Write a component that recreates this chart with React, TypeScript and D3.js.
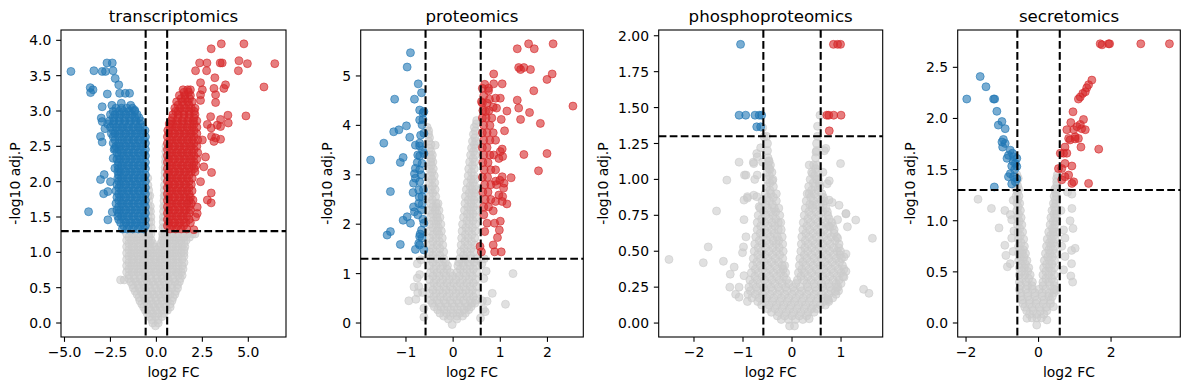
import * as d3 from "d3"

type Pt = [number, number]

const panelTitles = ["transcriptomics", "proteomics", "phosphoproteomics", "secretomics"]
const xAxisLabel = "log2 FC"
const yAxisLabel = "-log10 adj.P"
const fcCutoff = 0.585
const pCutoff = 1.3

const xTickValues = [
  [-5, -2.5, 0, 2.5, 5],
  [-1, 0, 1, 2],
  [-2, -1, 0, 1],
  [-2, 0, 2],
]
const yTickValues = [
  [0, 0.5, 1, 1.5, 2, 2.5, 3, 3.5, 4],
  [0, 1, 2, 3, 4, 5],
  [0, 0.25, 0.5, 0.75, 1, 1.25, 1.5, 1.75, 2],
  [0, 0.5, 1, 1.5, 2, 2.5],
]

// ---- transcriptomics ----
const transcriptomicsGrey: Pt[] = [
  [-0.2, 0], [0.1, 0], [-0.05, -0.04],
  [-0.25, 0.045], [0.1, 0.045],
  [-0.35, 0.09], [-0.05, 0.09], [0.3, 0.09],
  [-0.5, 0.135], [-0.2, 0.135], [0.1, 0.135], [0.4, 0.135],
  [-0.6, 0.18], [-0.3, 0.18], [0, 0.18], [0.3, 0.18], [0.6, 0.18],
  [-0.7, 0.225], [-0.4, 0.225], [-0.1, 0.225], [0.2, 0.225], [0.5, 0.225], [0.75, 0.225],
  [-0.8, 0.27], [-0.5, 0.27], [-0.2, 0.27], [0.1, 0.27], [0.4, 0.27], [0.75, 0.27],
  [-0.9, 0.315], [-0.6, 0.315], [-0.3, 0.315], [0, 0.315], [0.3, 0.315], [0.6, 0.315], [0.85, 0.315],
  [-0.95, 0.36], [-0.65, 0.36], [-0.35, 0.36], [-0.05, 0.36], [0.25, 0.36], [0.55, 0.36], [0.9, 0.36],
  [-1.05, 0.405], [-0.75, 0.405], [-0.45, 0.405], [-0.15, 0.405], [0.15, 0.405], [0.45, 0.405], [0.75, 0.405], [1.0, 0.405],
  [-1.15, 0.45], [-0.85, 0.45], [-0.55, 0.45], [-0.25, 0.45], [0.05, 0.45], [0.35, 0.45], [0.65, 0.45], [1.05, 0.45],
  [-1.25, 0.495], [-0.95, 0.495], [-0.65, 0.495], [-0.35, 0.495], [-0.05, 0.495], [0.25, 0.495], [0.55, 0.495], [0.85, 0.495], [1.15, 0.495],
  [-1.3, 0.54], [-1.0, 0.54], [-0.7, 0.54], [-0.4, 0.54], [-0.1, 0.54], [0.2, 0.54], [0.5, 0.54], [0.8, 0.54], [1.15, 0.54],
  [-1.4, 0.585], [-1.1, 0.585], [-0.8, 0.585], [-0.5, 0.585], [-0.2, 0.585], [0.1, 0.585], [0.4, 0.585], [0.7, 0.585], [1.0, 0.585], [1.25, 0.585],
  [-1.95, 0.61], [-1.75, 0.61],
  [-1.5, 0.63], [-1.2, 0.63], [-0.9, 0.63], [-0.6, 0.63], [-0.3, 0.63], [0, 0.63], [0.3, 0.63], [0.6, 0.63], [0.9, 0.63], [1.3, 0.63],
  [-1.5, 0.675], [-1.2, 0.675], [-0.9, 0.675], [-0.6, 0.675], [-0.3, 0.675], [0, 0.675], [0.3, 0.675], [0.6, 0.675], [0.9, 0.675], [1.2, 0.675], [1.4, 0.675],
  [-1.62, 0.72], [-1.32, 0.72], [-1.02, 0.72], [-0.72, 0.72], [-0.42, 0.72], [-0.12, 0.72], [0.18, 0.72], [0.48, 0.72], [0.78, 0.72], [1.08, 0.72], [1.35, 0.72],
  [-1.5, 0.765], [-1.2, 0.765], [-0.9, 0.765], [-0.6, 0.765], [-0.3, 0.765], [0, 0.765], [0.3, 0.765], [0.6, 0.765], [0.9, 0.765], [1.2, 0.765], [1.45, 0.765],
  [-1.62, 0.81], [-1.35, 0.81], [-1.05, 0.81], [-0.75, 0.81], [-0.45, 0.81], [-0.15, 0.81], [0.15, 0.81], [0.45, 0.81], [0.75, 0.81], [1.05, 0.81], [1.4, 0.81],
  [-1.5, 0.855], [-1.2, 0.855], [-0.9, 0.855], [-0.6, 0.855], [-0.3, 0.855], [0, 0.855], [0.3, 0.855], [0.6, 0.855], [0.9, 0.855], [1.2, 0.855], [1.5, 0.855],
  [-1.62, 0.9], [-1.32, 0.9], [-1.02, 0.9], [-0.72, 0.9], [-0.42, 0.9], [-0.12, 0.9], [0.18, 0.9], [0.48, 0.9], [0.78, 0.9], [1.08, 0.9], [1.4, 0.9],
  [-1.5, 0.945], [-1.2, 0.945], [-0.9, 0.945], [-0.6, 0.945], [-0.3, 0.945], [0, 0.945], [0.3, 0.945], [0.6, 0.945], [0.9, 0.945], [1.2, 0.945], [1.5, 0.945],
  [-1.62, 0.99], [-1.35, 0.99], [-1.05, 0.99], [-0.75, 0.99], [-0.45, 0.99], [-0.15, 0.99], [0.15, 0.99], [0.45, 0.99], [0.75, 0.99], [1.05, 0.99], [1.35, 0.99], [1.5, 0.99],
  [-1.5, 1.035], [-1.2, 1.035], [-0.9, 1.035], [-0.6, 1.035], [-0.3, 1.035], [0, 1.035], [0.3, 1.035], [0.6, 1.035], [0.9, 1.035], [1.2, 1.035], [1.5, 1.035],
  [-1.62, 1.08], [-1.32, 1.08], [-1.02, 1.08], [-0.72, 1.08], [-0.42, 1.08], [-0.12, 1.08], [0.18, 1.08], [0.48, 1.08], [0.78, 1.08], [1.08, 1.08], [1.38, 1.08], [1.55, 1.08],
  [-1.5, 1.125], [-1.2, 1.125], [-0.9, 1.125], [-0.6, 1.125], [-0.35, 1.125], [-0.2, 1.125], [0.25, 1.125], [0.4, 1.125], [0.6, 1.125], [0.9, 1.125], [1.2, 1.125], [1.5, 1.125],
  [-1.62, 1.17], [-1.35, 1.17], [-1.05, 1.17], [-0.75, 1.17], [-0.45, 1.17], [-0.28, 1.17], [0.32, 1.17], [0.45, 1.17], [0.75, 1.17], [1.05, 1.17], [1.35, 1.17], [1.62, 1.17],
  [-1.5, 1.215], [-1.2, 1.215], [-0.9, 1.215], [-0.6, 1.215], [-0.4, 1.215], [0.35, 1.215], [0.6, 1.215], [0.9, 1.215], [1.2, 1.215], [1.5, 1.215], [1.8, 1.215],
  [-1.62, 1.26], [-1.32, 1.26], [-1.02, 1.26], [-0.72, 1.26], [-0.42, 1.26], [-0.3, 1.26], [0.34, 1.26], [0.48, 1.26], [0.78, 1.26], [1.08, 1.26], [1.38, 1.26], [1.68, 1.26], [1.95, 1.26], [2.1, 1.26],
  [-0.45, 1.35], [-0.28, 1.35], [0.36, 1.35], [0.46, 1.35],
  [-0.42, 1.43], [-0.3, 1.43], [0.37, 1.43],
  [-0.45, 1.5], [-0.3, 1.5], [0.38, 1.5], [0.46, 1.5],
  [-0.42, 1.58], [-0.32, 1.58], [0.39, 1.58],
  [-0.45, 1.65], [-0.33, 1.65], [0.4, 1.65], [0.47, 1.65],
  [-0.42, 1.73], [0.41, 1.73],
  [-0.45, 1.8], [-0.36, 1.8], [0.42, 1.8], [0.48, 1.8],
  [-0.42, 1.88], [0.43, 1.88],
  [-0.46, 1.95], [0.44, 1.95], [-0.47, 2.05], [0.46, 2.05],
  [0.47, 2.13], [0.48, 2.2], [0.49, 2.28], [0.5, 2.35], [0.51, 2.43], [0.52, 2.5],
]

const transcriptomicsDown: Pt[] = [
  [-0.7, 1.33], [-1.0, 1.33], [-1.3, 1.33], [-1.6, 1.33], [-1.85, 1.33],
  [-0.6, 1.375], [-0.88, 1.375], [-1.18, 1.375], [-1.48, 1.375], [-1.78, 1.375],
  [-0.75, 1.42], [-1.05, 1.42], [-1.35, 1.42], [-1.65, 1.42], [-1.95, 1.42], [-2.64, 1.46],
  [-0.6, 1.465], [-0.88, 1.465], [-1.18, 1.465], [-1.48, 1.465], [-1.78, 1.465], [-2.05, 1.465],
  [-0.7, 1.51], [-1.0, 1.51], [-1.3, 1.51], [-1.6, 1.51], [-1.9, 1.51], [-2.1, 1.51], [-2.4, 1.57],
  [-0.6, 1.555], [-0.88, 1.555], [-1.18, 1.555], [-1.48, 1.555], [-1.78, 1.555], [-2.05, 1.555],
  [-0.75, 1.6], [-1.05, 1.6], [-1.35, 1.6], [-1.65, 1.6], [-1.95, 1.6], [-2.15, 1.6],
  [-0.6, 1.645], [-0.88, 1.645], [-1.18, 1.645], [-1.48, 1.645], [-1.78, 1.645], [-2.05, 1.645],
  [-0.7, 1.69], [-1.0, 1.69], [-1.3, 1.69], [-1.6, 1.69], [-1.9, 1.69], [-2.2, 1.69],
  [-0.6, 1.735], [-0.88, 1.735], [-1.18, 1.735], [-1.48, 1.735], [-1.78, 1.735], [-2.05, 1.735],
  [-0.75, 1.78], [-1.05, 1.78], [-1.35, 1.78], [-1.65, 1.78], [-1.95, 1.78], [-2.15, 1.78],
  [-0.6, 1.825], [-0.88, 1.825], [-1.18, 1.825], [-1.48, 1.825], [-1.78, 1.825], [-2.05, 1.825],
  [-0.7, 1.87], [-1.0, 1.87], [-1.3, 1.87], [-1.6, 1.87], [-1.9, 1.87], [-2.2, 1.87], [-2.64, 1.86], [-2.87, 1.83],
  [-0.6, 1.915], [-0.88, 1.915], [-1.18, 1.915], [-1.48, 1.915], [-1.78, 1.915], [-2.05, 1.915],
  [-0.75, 1.96], [-1.05, 1.96], [-1.35, 1.96], [-1.65, 1.96], [-1.95, 1.96], [-2.15, 1.96], [-2.5, 2.0],
  [-0.6, 2.005], [-0.88, 2.005], [-1.18, 2.005], [-1.48, 2.005], [-1.78, 2.005], [-2.05, 2.005],
  [-0.7, 2.05], [-1.0, 2.05], [-1.3, 2.05], [-1.6, 2.05], [-1.9, 2.05], [-2.1, 2.05], [-2.84, 2.1], [-3.04, 2.03],
  [-0.6, 2.095], [-0.88, 2.095], [-1.18, 2.095], [-1.48, 2.095], [-1.78, 2.095], [-2.05, 2.095],
  [-0.75, 2.14], [-1.05, 2.14], [-1.35, 2.14], [-1.65, 2.14], [-1.95, 2.14], [-2.1, 2.14],
  [-0.6, 2.185], [-0.88, 2.185], [-1.18, 2.185], [-1.48, 2.185], [-1.78, 2.185], [-2.05, 2.185],
  [-0.7, 2.23], [-1.0, 2.23], [-1.3, 2.23], [-1.6, 2.23], [-1.9, 2.23], [-2.1, 2.23], [-2.26, 2.19],
  [-0.6, 2.275], [-0.88, 2.275], [-1.18, 2.275], [-1.48, 2.275], [-1.78, 2.275], [-2.05, 2.275],
  [-0.75, 2.32], [-1.05, 2.32], [-1.35, 2.32], [-1.65, 2.32], [-1.95, 2.32], [-2.15, 2.32], [-2.35, 2.33],
  [-0.6, 2.365], [-0.88, 2.365], [-1.18, 2.365], [-1.48, 2.365], [-1.78, 2.365], [-2.05, 2.365],
  [-0.7, 2.41], [-1.0, 2.41], [-1.3, 2.41], [-1.6, 2.41], [-1.9, 2.41], [-2.15, 2.41],
  [-0.6, 2.455], [-0.88, 2.455], [-1.18, 2.455], [-1.48, 2.455], [-1.78, 2.455], [-2.05, 2.455], [-2.3, 2.455],
  [-0.75, 2.5], [-1.05, 2.5], [-1.35, 2.5], [-1.65, 2.5], [-1.95, 2.5], [-2.2, 2.5], [-2.26, 2.47],
  [-0.6, 2.545], [-0.88, 2.545], [-1.18, 2.545], [-1.48, 2.545], [-1.78, 2.545], [-2.05, 2.545], [-2.35, 2.545],
  [-0.7, 2.59], [-1.0, 2.59], [-1.3, 2.59], [-1.6, 2.59], [-1.9, 2.59], [-2.25, 2.59], [-2.95, 2.56],
  [-0.6, 2.635], [-0.88, 2.635], [-1.18, 2.635], [-1.48, 2.635], [-1.78, 2.635], [-2.05, 2.635], [-2.35, 2.635],
  [-0.75, 2.68], [-1.05, 2.68], [-1.35, 2.68], [-1.65, 2.68], [-1.95, 2.68], [-2.25, 2.68], [-2.45, 2.68], [-3.04, 2.64],
  [-0.62, 2.725], [-0.88, 2.725], [-1.18, 2.725], [-1.48, 2.725], [-1.78, 2.725], [-2.05, 2.725], [-2.35, 2.725],
  [-0.75, 2.77], [-1.0, 2.77], [-1.3, 2.77], [-1.6, 2.77], [-1.9, 2.77], [-2.2, 2.77], [-2.5, 2.77], [-2.8, 2.75],
  [-0.88, 2.815], [-1.18, 2.815], [-1.48, 2.815], [-1.78, 2.815], [-2.05, 2.815], [-2.35, 2.815], [-2.65, 2.815],
  [-0.85, 2.86], [-1.1, 2.86], [-1.4, 2.86], [-1.7, 2.86], [-2.0, 2.86], [-2.3, 2.86], [-2.55, 2.86], [-2.95, 2.85], [-3.0, 2.9],
  [-0.95, 2.905], [-1.18, 2.905], [-1.48, 2.905], [-1.78, 2.905], [-2.05, 2.905], [-2.35, 2.905],
  [-1.05, 2.95], [-1.35, 2.95], [-1.65, 2.95], [-1.95, 2.95], [-2.25, 2.95], [-2.5, 2.95],
  [-1.18, 2.995], [-1.48, 2.995], [-1.78, 2.995], [-2.05, 2.995], [-2.35, 2.995],
  [-1.3, 3.04], [-1.6, 3.04], [-1.9, 3.04], [-2.2, 3.04], [-2.42, 3.08],
  [-4.65, 3.56], [-3.69, 1.575], [-3.4, 3.57], [-2.95, 3.56], [-2.69, 3.68], [-2.4, 3.68], [-2.77, 3.56], [-2.36, 3.57],
  [-2.24, 3.46], [-2.05, 3.37], [-3.6, 3.33], [-3.45, 3.3], [-3.58, 3.26], [-2.67, 3.24], [-2.0, 3.25], [-1.69, 3.25],
  [-1.46, 3.25], [-2.95, 3.06], [-1.91, 3.11], [-1.4, 3.08], [-1.18, 3.01],
]

const transcriptomicsUp: Pt[] = [
  [0.75, 1.33], [1.05, 1.33], [1.35, 1.33], [1.65, 1.33], [2.04, 1.32],
  [0.6, 1.375], [0.88, 1.375], [1.18, 1.375], [1.48, 1.375],
  [0.7, 1.42], [1.0, 1.42], [1.3, 1.42], [1.6, 1.42], [1.85, 1.42],
  [0.6, 1.465], [0.88, 1.465], [1.18, 1.465], [1.48, 1.465], [1.78, 1.465],
  [0.75, 1.51], [1.05, 1.51], [1.35, 1.51], [1.65, 1.51], [2.13, 1.5],
  [0.6, 1.555], [0.88, 1.555], [1.18, 1.555], [1.48, 1.555], [1.78, 1.555],
  [0.7, 1.6], [1.0, 1.6], [1.3, 1.6], [1.6, 1.6], [1.85, 1.6], [2.22, 1.55],
  [0.6, 1.645], [0.88, 1.645], [1.18, 1.645], [1.48, 1.645], [1.78, 1.645],
  [0.75, 1.69], [1.05, 1.69], [1.35, 1.69], [1.65, 1.69], [1.9, 1.69], [2.22, 1.64],
  [0.6, 1.735], [0.88, 1.735], [1.18, 1.735], [1.48, 1.735], [1.78, 1.735],
  [0.7, 1.78], [1.0, 1.78], [1.3, 1.78], [1.6, 1.78], [1.85, 1.78], [1.99, 1.74], [2.77, 1.74], [2.98, 1.7],
  [0.6, 1.825], [0.88, 1.825], [1.18, 1.825], [1.48, 1.825], [1.78, 1.825],
  [0.75, 1.87], [1.05, 1.87], [1.35, 1.87], [1.65, 1.87], [1.94, 1.87], [2.98, 1.84],
  [0.6, 1.915], [0.88, 1.915], [1.18, 1.915], [1.48, 1.915], [1.78, 1.915],
  [0.7, 1.96], [1.0, 1.96], [1.3, 1.96], [1.6, 1.96], [1.9, 1.96], [2.4, 2.0],
  [0.6, 2.005], [0.88, 2.005], [1.18, 2.005], [1.48, 2.005], [1.78, 2.005],
  [0.75, 2.05], [1.05, 2.05], [1.35, 2.05], [1.65, 2.05], [1.95, 2.05],
  [0.6, 2.095], [0.88, 2.095], [1.18, 2.095], [1.48, 2.095], [1.78, 2.095],
  [0.7, 2.14], [1.0, 2.14], [1.3, 2.14], [1.6, 2.14], [1.9, 2.14], [2.1, 2.14], [3.0, 2.13], [2.58, 2.21],
  [0.6, 2.185], [0.88, 2.185], [1.18, 2.185], [1.48, 2.185], [1.78, 2.185], [2.05, 2.185],
  [0.75, 2.23], [1.05, 2.23], [1.35, 2.23], [1.65, 2.23], [1.95, 2.23], [2.15, 2.23],
  [0.6, 2.275], [0.88, 2.275], [1.18, 2.275], [1.48, 2.275], [1.78, 2.275], [2.05, 2.275],
  [0.7, 2.32], [1.0, 2.32], [1.3, 2.32], [1.6, 2.32], [1.9, 2.32], [2.2, 2.32], [2.67, 2.35],
  [0.6, 2.365], [0.88, 2.365], [1.18, 2.365], [1.48, 2.365], [1.78, 2.365], [2.05, 2.365],
  [0.75, 2.41], [1.05, 2.41], [1.35, 2.41], [1.65, 2.41], [1.95, 2.41], [2.25, 2.41],
  [0.6, 2.455], [0.88, 2.455], [1.18, 2.455], [1.48, 2.455], [1.78, 2.455], [2.05, 2.455],
  [0.7, 2.5], [1.0, 2.5], [1.3, 2.5], [1.6, 2.5], [1.9, 2.5], [2.2, 2.5],
  [0.6, 2.545], [0.88, 2.545], [1.18, 2.545], [1.48, 2.545], [1.78, 2.545], [2.05, 2.545],
  [0.75, 2.59], [1.05, 2.59], [1.35, 2.59], [1.65, 2.59], [1.95, 2.59], [2.25, 2.59], [2.5, 2.59], [3.49, 2.6], [3.22, 2.62], [3.0, 2.64], [3.13, 2.57],
  [0.6, 2.635], [0.88, 2.635], [1.18, 2.635], [1.48, 2.635], [1.78, 2.635], [2.05, 2.635],
  [0.7, 2.68], [1.0, 2.68], [1.3, 2.68], [1.6, 2.68], [1.9, 2.68], [2.2, 2.68],
  [0.62, 2.725], [0.88, 2.725], [1.18, 2.725], [1.48, 2.725], [1.78, 2.725], [2.05, 2.725],
  [0.75, 2.77], [1.05, 2.77], [1.35, 2.77], [1.65, 2.77], [1.95, 2.77], [2.2, 2.77], [2.77, 2.81], [3.31, 2.8], [2.98, 2.76], [3.49, 2.78],
  [0.7, 2.815], [0.88, 2.815], [1.18, 2.815], [1.48, 2.815], [1.78, 2.815], [2.05, 2.815],
  [0.8, 2.86], [1.1, 2.86], [1.4, 2.86], [1.7, 2.86], [2.0, 2.86], [2.2, 2.86], [2.95, 2.92], [3.49, 2.88], [3.91, 2.83], [3.89, 2.94], [4.87, 2.93],
  [0.88, 2.905], [1.18, 2.905], [1.48, 2.905], [1.78, 2.905], [2.05, 2.905],
  [0.9, 2.95], [1.2, 2.95], [1.5, 2.95], [1.8, 2.95], [2.1, 2.95],
  [1.05, 2.995], [1.18, 2.995], [1.48, 2.995], [1.78, 2.995], [2.05, 2.995],
  [1.0, 3.04], [1.3, 3.04], [1.6, 3.04], [1.9, 3.04], [2.1, 3.04],
  [1.18, 3.085], [1.48, 3.085], [1.78, 3.085],
  [1.1, 3.13], [1.4, 3.13], [1.7, 3.13], [1.95, 3.13], [2.4, 3.15], [3.22, 3.12],
  [1.35, 3.175], [1.55, 3.175], [1.8, 3.175],
  [1.25, 3.22], [1.55, 3.22], [1.85, 3.22], [2.4, 3.23], [3.22, 3.23],
  [1.5, 3.265], [1.75, 3.265],
  [1.45, 3.3], [1.7, 3.3], [1.85, 3.3], [2.5, 3.3], [3.13, 3.32], [3.67, 3.32],
  [3.53, 3.95], [4.76, 3.95], [2.98, 3.88], [2.35, 3.68], [2.75, 3.68], [3.47, 3.68], [3.58, 3.68], [4.49, 3.71],
  [4.95, 3.67], [6.44, 3.67], [2.13, 3.57], [2.73, 3.57], [4.46, 3.57], [3.18, 3.47], [2.4, 3.4], [5.85, 3.34], [3.76, 3.37],
]

// ---- proteomics ----
const proteomicsGrey: Pt[] = [
  [-0.02, -0.03], [-0.1, 0.08], [0.08, 0.08],
  [-0.2, 0.14], [-0.06, 0.14], [0.08, 0.14], [0.2, 0.14],
  [-0.28, 0.2], [-0.14, 0.2], [0, 0.2], [0.14, 0.2], [0.26, 0.2],
  [-0.33, 0.27], [-0.19, 0.27], [-0.05, 0.27], [0.09, 0.27], [0.23, 0.27], [0.33, 0.27],
  [-0.4, 0.33], [-0.26, 0.33], [-0.12, 0.33], [0.02, 0.33], [0.16, 0.33], [0.3, 0.33], [0.38, 0.33],
  [-0.44, 0.4], [-0.3, 0.4], [-0.16, 0.4], [-0.02, 0.4], [0.12, 0.4], [0.26, 0.4], [0.4, 0.4], [0.46, 0.4],
  [-0.48, 0.46], [-0.34, 0.46], [-0.2, 0.46], [-0.06, 0.46], [0.08, 0.46], [0.22, 0.46], [0.36, 0.46], [0.48, 0.46],
  [-0.41, 0.53], [-0.27, 0.53], [-0.13, 0.53], [0.01, 0.53], [0.15, 0.53], [0.29, 0.53], [0.43, 0.53],
  [-0.5, 0.6], [-0.36, 0.6], [-0.22, 0.6], [-0.08, 0.6], [0.06, 0.6], [0.2, 0.6], [0.34, 0.6], [0.48, 0.6],
  [-0.43, 0.67], [-0.29, 0.67], [-0.15, 0.67], [-0.01, 0.67], [0.13, 0.67], [0.27, 0.67], [0.41, 0.67],
  [-0.48, 0.74], [-0.34, 0.74], [-0.2, 0.74], [-0.06, 0.74], [0.08, 0.74], [0.22, 0.74], [0.36, 0.74], [0.5, 0.74],
  [-0.41, 0.81], [-0.27, 0.81], [-0.13, 0.81], [0.01, 0.81], [0.15, 0.81], [0.29, 0.81], [0.43, 0.81],
  [-0.5, 0.88], [-0.36, 0.88], [-0.22, 0.88], [-0.08, 0.88], [0.06, 0.88], [0.2, 0.88], [0.34, 0.88], [0.48, 0.88],
  [-0.43, 0.95], [-0.29, 0.95], [-0.15, 0.95], [-0.01, 0.95], [0.13, 0.95], [0.27, 0.95], [0.41, 0.95],
  [-0.48, 1.02], [-0.34, 1.02], [-0.2, 1.02], [-0.06, 1.02], [0.08, 1.02], [0.22, 1.02], [0.36, 1.02], [0.5, 1.02],
  [-0.41, 1.09], [-0.27, 1.09], [-0.13, 1.09], [0.15, 1.09], [0.29, 1.09], [0.43, 1.09],
  [-0.5, 1.16], [-0.36, 1.16], [-0.22, 1.16], [-0.12, 1.16], [0.1, 1.16], [0.22, 1.16], [0.36, 1.16], [0.48, 1.16],
  [-0.43, 1.23], [-0.29, 1.23], [-0.16, 1.23], [0.12, 1.23], [0.2, 1.23], [0.32, 1.23], [0.44, 1.23],
  [-0.48, 1.3], [-0.34, 1.3], [-0.2, 1.3], [0.14, 1.3], [0.26, 1.3], [0.38, 1.3], [0.5, 1.3],
  [-0.43, 1.37], [-0.28, 1.37], [0.22, 1.37], [0.37, 1.37],
  [-0.5, 1.44], [-0.36, 1.44], [-0.2, 1.44], [0.16, 1.44], [0.3, 1.44], [0.44, 1.44],
  [-0.43, 1.51], [-0.28, 1.51], [0.23, 1.51], [0.38, 1.51],
  [-0.48, 1.58], [-0.34, 1.58], [-0.22, 1.58], [0.17, 1.58], [0.31, 1.58], [0.46, 1.58],
  [-0.43, 1.65], [-0.29, 1.65], [0.25, 1.65], [0.39, 1.65],
  [-0.5, 1.72], [-0.36, 1.72], [-0.23, 1.72], [0.18, 1.72], [0.32, 1.72], [0.46, 1.72],
  [-0.42, 1.79], [-0.3, 1.79], [0.26, 1.79], [0.4, 1.79],
  [-0.48, 1.86], [-0.34, 1.86], [-0.25, 1.86], [0.19, 1.86], [0.33, 1.86], [0.47, 1.86],
  [-0.43, 1.93], [-0.31, 1.93], [0.27, 1.93], [0.41, 1.93],
  [-0.5, 2.0], [-0.36, 2.0], [-0.26, 2.0], [0.2, 2.0], [0.34, 2.0], [0.48, 2.0],
  [-0.42, 2.07], [-0.32, 2.07], [0.29, 2.07], [0.42, 2.07],
  [-0.48, 2.14], [-0.35, 2.14], [-0.28, 2.14], [0.22, 2.14], [0.36, 2.14], [0.48, 2.14],
  [-0.44, 2.21], [-0.34, 2.21], [0.3, 2.21], [0.42, 2.21],
  [-0.5, 2.28], [-0.38, 2.28], [-0.3, 2.28], [0.24, 2.28], [0.37, 2.28], [0.48, 2.28],
  [-0.43, 2.35], [-0.35, 2.35], [0.31, 2.35], [0.43, 2.35],
  [-0.48, 2.42], [-0.36, 2.42], [-0.32, 2.42], [0.25, 2.42], [0.38, 2.42], [0.49, 2.42],
  [-0.44, 2.49], [0.32, 2.49], [0.44, 2.49],
  [-0.5, 2.56], [-0.37, 2.56], [0.26, 2.56], [0.39, 2.56], [0.48, 2.56],
  [-0.43, 2.63], [0.34, 2.63], [0.45, 2.63],
  [-0.48, 2.7], [-0.38, 2.7], [0.28, 2.7], [0.4, 2.7], [0.49, 2.7],
  [-0.44, 2.77], [0.36, 2.77], [0.46, 2.77],
  [-0.5, 2.84], [-0.39, 2.84], [0.3, 2.84], [0.42, 2.84],
  [-0.45, 2.91], [0.38, 2.91], [0.47, 2.91],
  [-0.48, 2.98], [-0.4, 2.98], [0.32, 2.98], [0.44, 2.98],
  [-0.45, 3.05], [0.39, 3.05],
  [-0.5, 3.12], [-0.42, 3.12], [0.33, 3.12], [0.45, 3.12],
  [-0.46, 3.19], [0.41, 3.19],
  [-0.48, 3.26], [-0.43, 3.26], [0.35, 3.26], [0.46, 3.26],
  [-0.46, 3.33], [0.42, 3.33],
  [-0.5, 3.4], [-0.44, 3.4], [0.37, 3.4], [0.47, 3.4],
  [-0.47, 3.47], [0.43, 3.47],
  [-0.5, 3.54], [-0.38, 3.6], [0.39, 3.54], [0.48, 3.54],
  [-0.47, 3.61], [0.45, 3.61],
  [-0.52, 3.68], [0.41, 3.68], [0.49, 3.68],
  [-0.5, 3.75], [0.46, 3.75],
  [-0.52, 3.82], [0.43, 3.82], [-0.52, 3.89], [0.47, 3.89], [-0.55, 3.96], [0.45, 3.96], [0.49, 4.03], [0.5, 4.1],
  [-0.94, 0.45], [1.27, 1.0], [1.11, 0.38], [0.83, 0.6], [0.72, 0.44], [0.65, 0.9], [0.61, 1.2],
  [-0.73, 0.74], [-0.76, 0.91], [-0.79, 0.48], [-0.71, 0.98], [-0.76, 1.2], [-0.75, 0.61], [-0.83, 0.73],
  [0.68, 0.23], [0.64, 0.28], [-0.62, 0.3], [0.62, 0.45], [-0.65, 0.62], [0.7, 1.05], [-0.68, 1.28], [0.66, 1.3],
  [-0.62, 0.12], [0.58, 0.1],
]

const proteomicsDown: Pt[] = [
  [-0.905, 5.47], [-0.975, 5.18], [-0.74, 4.84], [-0.67, 4.66], [-1.24, 4.53], [-0.82, 4.53], [-0.71, 4.31], [-0.62, 4.28],
  [-0.64, 4.12], [-1.26, 3.87], [-1.15, 3.91], [-0.99, 3.99], [-1.47, 3.64], [-0.92, 3.76], [-0.8, 3.6], [-0.71, 3.58],
  [-0.75, 3.4], [-0.71, 3.38], [-1.75, 3.3], [-1.06, 3.35], [-1.12, 3.25], [-0.82, 3.02], [-0.8, 2.93], [-0.84, 2.83],
  [-0.85, 2.64], [-1.33, 2.66], [-1.06, 2.08], [-0.905, 2.02], [-0.975, 2.15], [-0.82, 2.25], [-0.75, 2.19], [-0.67, 2.29],
  [-1.4, 1.78], [-1.33, 1.85], [-1.12, 1.59], [-0.8, 1.49], [-0.73, 1.61], [-0.71, 1.75], [-0.67, 1.88], [-0.73, 2.42],
  [-0.84, 2.35], [-0.66, 2.56], [-0.73, 2.69], [-0.71, 2.86], [-0.8, 3.13], [-0.71, 3.1], [-0.66, 3.23], [-0.62, 3.43],
  [-0.71, 3.64], [-0.62, 3.84], [-0.66, 4.01], [-0.71, 4.11], [-0.62, 2.02], [-0.66, 1.72], [-0.71, 1.58], [-0.62, 1.48],
  [-0.65, 3.5], [-0.68, 3.0], [-0.63, 2.7], [-0.66, 2.4], [-0.64, 2.1], [-0.7, 1.8], [-0.72, 2.55], [-0.76, 3.25],
  [-0.69, 3.8], [-0.64, 4.25],
]

const proteomicsUp: Pt[] = [
  [1.36, 5.55], [1.6, 5.65], [1.72, 5.55], [2.12, 5.65], [1.39, 5.17], [1.5, 5.17], [1.64, 5.13], [1.43, 5.13],
  [2.1, 5.04], [1.99, 4.93], [1.71, 4.7], [2.54, 4.39], [1.36, 4.51], [1.39, 4.35], [1.62, 4.26], [1.43, 4.12],
  [1.85, 4.04], [1.99, 3.43], [1.5, 3.41], [1.81, 3.08], [1.23, 2.94], [1.14, 2.41], [1.04, 2.46], [0.99, 2.89],
  [1.07, 2.73], [0.86, 5.04], [0.86, 4.84], [1.04, 4.84], [1.0, 4.55], [0.9, 4.55], [0.92, 4.35], [1.14, 4.29],
  [1.02, 4.12], [1.09, 3.89], [1.04, 3.52], [1.05, 3.37], [0.85, 4.37], [0.77, 4.53], [0.75, 4.7], [0.67, 4.83],
  [0.6, 4.48], [0.69, 4.28], [1.0, 2.06], [0.88, 2.02], [0.98, 1.88], [0.94, 1.73], [0.85, 1.58], [1.02, 1.44],
  [0.88, 1.44], [0.67, 1.85], [0.72, 2.02], [0.65, 2.19], [0.6, 1.44], [0.57, 1.55], [0.85, 2.27], [0.9, 2.46],
  [0.97, 2.59], [1.05, 2.56], [1.0, 3.47], [0.97, 3.33], [1.04, 2.96], [0.9, 2.87], [1.08, 2.83],
  [0.62, 4.75], [0.75, 4.75], [0.65, 4.6], [0.62, 4.45], [0.72, 4.45], [0.63, 4.3], [0.76, 4.3],
  [0.62, 4.15], [0.7, 4.15], [0.82, 4.15], [0.65, 4.0], [0.78, 4.0], [0.62, 3.85], [0.72, 3.85], [0.85, 3.85],
  [0.65, 3.7], [0.78, 3.7], [0.9, 3.7], [0.62, 3.55], [0.72, 3.55], [0.65, 3.4], [0.78, 3.4], [0.86, 3.4],
  [0.63, 3.25], [0.74, 3.25], [0.66, 3.1], [0.8, 3.1], [0.9, 3.1], [0.62, 2.95], [0.73, 2.95],
  [0.67, 2.8], [0.8, 2.8], [0.92, 2.8], [0.63, 2.65], [0.74, 2.65], [0.68, 2.5], [0.8, 2.5], [0.65, 2.35], [0.75, 2.35],
]

// ---- phosphoproteomics ----
const phosphoproteomicsGrey: Pt[] = [
  [-0.05, -0.02], [0.05, -0.02],
  [-0.22, 0.025], [-0.07, 0.025], [0.07, 0.025], [0.22, 0.025],
  [-0.3, 0.05], [-0.15, 0.05], [0, 0.05], [0.15, 0.05], [0.3, 0.05],
  [-0.42, 0.075], [-0.27, 0.075], [-0.12, 0.075], [0.03, 0.075], [0.18, 0.075], [0.33, 0.075], [0.45, 0.075],
  [-0.5, 0.1], [-0.35, 0.1], [-0.2, 0.1], [-0.05, 0.1], [0.1, 0.1], [0.25, 0.1], [0.4, 0.1], [0.5, 0.1],
  [-0.62, 0.125], [-0.47, 0.125], [-0.32, 0.125], [-0.17, 0.125], [-0.02, 0.125], [0.13, 0.125], [0.28, 0.125], [0.43, 0.125], [0.58, 0.125], [0.68, 0.125],
  [-0.7, 0.15], [-0.55, 0.15], [-0.4, 0.15], [-0.25, 0.15], [-0.1, 0.15], [0.05, 0.15], [0.2, 0.15], [0.35, 0.15], [0.5, 0.15], [0.65, 0.15], [0.75, 0.15],
  [-0.82, 0.175], [-0.67, 0.175], [-0.52, 0.175], [-0.37, 0.175], [-0.22, 0.175], [-0.07, 0.175], [0.08, 0.175], [0.23, 0.175], [0.38, 0.175], [0.53, 0.175], [0.68, 0.175], [0.83, 0.175],
  [-0.9, 0.2], [-0.75, 0.2], [-0.6, 0.2], [-0.45, 0.2], [-0.3, 0.2], [-0.15, 0.2], [0, 0.2], [0.15, 0.2], [0.3, 0.2], [0.45, 0.2], [0.6, 0.2], [0.75, 0.2], [0.9, 0.2],
  [-0.85, 0.225], [-0.7, 0.225], [-0.55, 0.225], [-0.4, 0.225], [-0.25, 0.225], [-0.1, 0.225], [0.05, 0.225], [0.2, 0.225], [0.35, 0.225], [0.5, 0.225], [0.65, 0.225], [0.8, 0.225], [0.95, 0.225],
  [-0.88, 0.25], [-0.73, 0.25], [-0.58, 0.25], [-0.43, 0.25], [-0.28, 0.25], [-0.13, 0.25], [0.02, 0.25], [0.17, 0.25], [0.32, 0.25], [0.47, 0.25], [0.62, 0.25], [0.77, 0.25], [0.94, 0.25],
  [-0.8, 0.275], [-0.65, 0.275], [-0.5, 0.275], [-0.35, 0.275], [-0.2, 0.275], [-0.07, 0.275], [0.08, 0.275], [0.3, 0.275], [0.45, 0.275], [0.6, 0.275], [0.75, 0.275], [0.9, 0.275], [1.0, 0.275],
  [-0.86, 0.3], [-0.71, 0.3], [-0.56, 0.3], [-0.41, 0.3], [-0.26, 0.3], [-0.11, 0.3], [0.11, 0.3], [0.24, 0.3], [0.39, 0.3], [0.54, 0.3], [0.69, 0.3], [0.84, 0.3], [0.96, 0.3],
  [-0.76, 0.325], [-0.61, 0.325], [-0.46, 0.325], [-0.31, 0.325], [-0.17, 0.325], [0.18, 0.325], [0.32, 0.325], [0.47, 0.325], [0.62, 0.325], [0.77, 0.325], [0.92, 0.325], [1.04, 0.325],
  [-0.83, 0.35], [-0.68, 0.35], [-0.53, 0.35], [-0.38, 0.35], [-0.23, 0.35], [-0.13, 0.35], [0.13, 0.35], [0.25, 0.35], [0.4, 0.35], [0.55, 0.35], [0.7, 0.35], [0.85, 0.35], [1.0, 0.35],
  [-0.75, 0.375], [-0.6, 0.375], [-0.45, 0.375], [-0.3, 0.375], [-0.18, 0.375], [0.2, 0.375], [0.35, 0.375], [0.5, 0.375], [0.65, 0.375], [0.8, 0.375], [0.95, 0.375], [1.06, 0.375],
  [-0.8, 0.4], [-0.65, 0.4], [-0.5, 0.4], [-0.35, 0.4], [-0.2, 0.4], [-0.15, 0.4], [0.15, 0.4], [0.28, 0.4], [0.43, 0.4], [0.58, 0.4], [0.73, 0.4], [0.88, 0.4], [1.03, 0.4],
  [-0.72, 0.425], [-0.57, 0.425], [-0.42, 0.425], [-0.27, 0.425], [0.22, 0.425], [0.37, 0.425], [0.52, 0.425], [0.67, 0.425], [0.82, 0.425], [0.97, 0.425],
  [-0.79, 0.45], [-0.64, 0.45], [-0.49, 0.45], [-0.34, 0.45], [-0.19, 0.45], [0.16, 0.45], [0.3, 0.45], [0.45, 0.45], [0.6, 0.45], [0.75, 0.45], [0.9, 0.45], [1.01, 0.45],
  [-0.7, 0.475], [-0.55, 0.475], [-0.4, 0.475], [-0.25, 0.475], [0.25, 0.475], [0.4, 0.475], [0.55, 0.475], [0.7, 0.475], [0.85, 0.475], [0.98, 0.475],
  [-0.77, 0.5], [-0.62, 0.5], [-0.47, 0.5], [-0.32, 0.5], [-0.18, 0.5], [0.18, 0.5], [0.32, 0.5], [0.47, 0.5], [0.62, 0.5], [0.77, 0.5], [0.92, 0.5], [0.99, 0.5],
  [-0.69, 0.525], [-0.54, 0.525], [-0.39, 0.525], [-0.26, 0.525], [0.26, 0.525], [0.4, 0.525], [0.55, 0.525], [0.7, 0.525], [0.85, 0.525], [0.95, 0.525],
  [-0.76, 0.55], [-0.61, 0.55], [-0.46, 0.55], [-0.32, 0.55], [-0.19, 0.55], [0.19, 0.55], [0.33, 0.55], [0.48, 0.55], [0.63, 0.55], [0.78, 0.55], [0.96, 0.55],
  [-0.67, 0.575], [-0.52, 0.575], [-0.38, 0.575], [-0.27, 0.575], [0.27, 0.575], [0.42, 0.575], [0.57, 0.575], [0.72, 0.575], [0.88, 0.575],
  [-0.74, 0.6], [-0.59, 0.6], [-0.44, 0.6], [-0.3, 0.6], [-0.2, 0.6], [0.2, 0.6], [0.35, 0.6], [0.5, 0.6], [0.65, 0.6], [0.8, 0.6], [0.91, 0.6],
  [-0.65, 0.625], [-0.5, 0.625], [-0.36, 0.625], [0.28, 0.625], [0.43, 0.625], [0.58, 0.625], [0.73, 0.625], [0.86, 0.625],
  [-0.71, 0.65], [-0.56, 0.65], [-0.41, 0.65], [-0.28, 0.65], [-0.22, 0.65], [0.22, 0.65], [0.36, 0.65], [0.51, 0.65], [0.66, 0.65], [0.86, 0.65],
  [-0.64, 0.675], [-0.49, 0.675], [-0.35, 0.675], [0.3, 0.675], [0.45, 0.675], [0.6, 0.675], [0.75, 0.675], [0.83, 0.675],
  [-0.71, 0.7], [-0.56, 0.7], [-0.41, 0.7], [-0.28, 0.7], [-0.23, 0.7], [0.23, 0.7], [0.38, 0.7], [0.53, 0.7], [0.68, 0.7], [0.81, 0.7],
  [-0.62, 0.725], [-0.47, 0.725], [-0.33, 0.725], [0.32, 0.725], [0.47, 0.725], [0.62, 0.725], [0.76, 0.725],
  [-0.69, 0.75], [-0.54, 0.75], [-0.39, 0.75], [-0.25, 0.75], [0.25, 0.75], [0.4, 0.75], [0.55, 0.75], [0.73, 0.75],
  [-0.58, 0.775], [-0.43, 0.775], [-0.33, 0.775], [0.34, 0.775], [0.49, 0.775], [0.63, 0.775], [0.72, 0.775],
  [-0.65, 0.8], [-0.5, 0.8], [-0.36, 0.8], [-0.27, 0.8], [0.27, 0.8], [0.42, 0.8], [0.57, 0.8], [0.69, 0.8],
  [-0.54, 0.825], [-0.4, 0.825], [0.36, 0.825], [0.5, 0.825], [0.64, 0.825],
  [-0.61, 0.85], [-0.46, 0.85], [-0.32, 0.85], [0.29, 0.85], [0.44, 0.85], [0.59, 0.85], [0.66, 0.85],
  [-0.5, 0.875], [-0.38, 0.875], [0.38, 0.875], [0.52, 0.875], [0.64, 0.875],
  [-0.55, 0.9], [-0.43, 0.9], [-0.32, 0.9], [0.31, 0.9], [0.46, 0.9], [0.61, 0.9],
  [-0.45, 0.925], [0.4, 0.925], [0.53, 0.925],
  [-0.51, 0.95], [-0.38, 0.95], [0.34, 0.95], [0.47, 0.95], [0.57, 0.95],
  [-0.45, 0.975], [0.43, 0.975], [0.55, 0.975],
  [-0.51, 1.0], [-0.39, 1.0], [0.37, 1.0], [0.5, 1.0], [0.54, 1.0],
  [-0.46, 1.025], [0.46, 1.025],
  [-0.51, 1.05], [-0.41, 1.05], [0.4, 1.05], [0.53, 1.05],
  [-0.47, 1.075], [0.48, 1.075],
  [-0.49, 1.1], [-0.44, 1.1], [0.44, 1.1], [0.51, 1.1], [-0.47, 1.125],
  [-0.49, 1.15], [0.48, 1.15], [-0.5, 1.2], [0.5, 1.2], [-0.5, 1.25], [0.5, 1.25], [-0.52, 1.3], [0.52, 1.3],
  [-2.51, 0.443], [-1.81, 0.42], [-1.71, 0.53], [-1.54, 0.78], [-1.33, 0.995], [-1.4, 0.43], [-1.27, 0.25], [-1.18, 0.39],
  [-1.26, 0.34], [-1.08, 1.12], [-0.97, 1.03], [-0.98, 0.856], [-0.78, 0.89], [-0.91, 0.87], [-0.98, 0.72], [-0.94, 0.6],
  [-0.99, 0.53], [-1.01, 0.49], [-1.08, 0.25], [-1.15, 0.2], [-0.78, 1.11], [-0.71, 1.157], [-0.64, 1.22], [-0.71, 1.03],
  [-0.57, 1.297], [-1.08, 0.18], [-0.91, 0.15], [-0.98, 0.33], [-0.91, 0.88], [-0.94, 1.03], [-0.79, 1.12], [-0.72, 1.18],
  [-0.6, 1.12], [-0.47, 1.13], [-0.45, 1.07], [-0.4, 0.99], [-0.76, 1.0], [-0.72, 0.88], [-0.67, 0.81], [-0.6, 1.36],
  [0.99, 1.11], [0.76, 0.99], [0.82, 0.84], [0.96, 0.82], [1.1, 0.76], [0.93, 0.72], [1.13, 0.67], [0.77, 0.67],
  [0.93, 0.59], [1.1, 0.48], [1.06, 0.32], [0.88, 0.22], [0.74, 0.16], [0.35, 1.1], [0.42, 1.04], [0.63, 1.05],
  [0.66, 1.2], [0.49, 1.19], [0.35, 0.9], [0.42, 0.82], [1.64, 0.59], [1.46, 0.235], [1.57, 0.207], [1.3, 0.717],
  [1.1, 0.763], [0.755, 0.856], [0.72, 0.97], [0.69, 1.216], [1.06, 0.46], [1.1, 0.36], [0.91, 0.25], [0.73, 0.17],
  [0.35, 0.03], [0.52, 1.37], [0.57, 1.447],
]

const phosphoproteomicsDown: Pt[] = [
  [-1.05, 1.94], [-1.08, 1.447], [-0.945, 1.447], [-0.755, 1.447], [-0.67, 1.447], [-0.62, 1.447], [-0.72, 1.366], [-0.64, 1.366],
]

const phosphoproteomicsUp: Pt[] = [
  [0.845, 1.94], [0.93, 1.94], [0.99, 1.94], [0.71, 1.447], [0.75, 1.447], [0.85, 1.447], [1.0, 1.447], [0.76, 1.338],
]

// ---- secretomics ----
const secretomicsGrey: Pt[] = [
  [-0.05, -0.02],
  [-0.18, 0.05], [-0.05, 0.05], [0.08, 0.05],
  [-0.25, 0.085], [-0.05, 0.085], [0.15, 0.085],
  [-0.33, 0.12], [-0.15, 0.12], [0.05, 0.12], [0.23, 0.12],
  [-0.38, 0.155], [-0.18, 0.155], [0.02, 0.155], [0.22, 0.155],
  [-0.43, 0.19], [-0.25, 0.19], [-0.07, 0.19], [0.13, 0.19], [0.33, 0.19],
  [-0.45, 0.225], [-0.25, 0.225], [-0.05, 0.225], [0.15, 0.225], [0.33, 0.225],
  [-0.48, 0.26], [-0.3, 0.26], [-0.1, 0.26], [0.1, 0.26], [0.28, 0.26], [0.38, 0.26],
  [-0.5, 0.295], [-0.3, 0.295], [-0.1, 0.295], [0.1, 0.295], [0.3, 0.295], [0.42, 0.295],
  [-0.53, 0.33], [-0.35, 0.33], [-0.17, 0.33], [0.02, 0.33], [0.2, 0.33], [0.43, 0.33],
  [-0.5, 0.365], [-0.3, 0.365], [-0.18, 0.365], [0.12, 0.365], [0.32, 0.365], [0.44, 0.365],
  [-0.53, 0.4], [-0.35, 0.4], [-0.17, 0.4], [0.12, 0.4], [0.28, 0.4], [0.43, 0.4],
  [-0.45, 0.435], [-0.27, 0.435], [0.2, 0.435], [0.36, 0.435],
  [-0.53, 0.47], [-0.38, 0.47], [-0.23, 0.47], [0.12, 0.47], [0.28, 0.47], [0.43, 0.47],
  [-0.46, 0.505], [-0.3, 0.505], [0.2, 0.505], [0.36, 0.505],
  [-0.53, 0.54], [-0.39, 0.54], [-0.27, 0.54], [0.14, 0.54], [0.29, 0.54], [0.43, 0.54],
  [-0.48, 0.575], [-0.36, 0.575], [0.22, 0.575], [0.37, 0.575],
  [-0.55, 0.61], [-0.43, 0.61], [-0.32, 0.61], [0.16, 0.61], [0.3, 0.61], [0.44, 0.61],
  [-0.5, 0.645], [-0.4, 0.645], [0.25, 0.645], [0.38, 0.645],
  [-0.55, 0.68], [-0.45, 0.68], [-0.36, 0.68], [0.19, 0.68], [0.32, 0.68], [0.45, 0.68],
  [-0.5, 0.715], [-0.42, 0.715], [0.28, 0.715], [0.4, 0.715],
  [-0.55, 0.75], [-0.39, 0.75], [0.22, 0.75], [0.34, 0.75], [0.45, 0.75],
  [-0.48, 0.785], [0.3, 0.785], [0.41, 0.785],
  [-0.56, 0.82], [-0.41, 0.82], [0.24, 0.82], [0.36, 0.82], [0.46, 0.82],
  [-0.5, 0.855], [0.33, 0.855], [0.42, 0.855],
  [-0.57, 0.89], [-0.44, 0.89], [0.28, 0.89], [0.4, 0.89], [0.47, 0.89],
  [-0.52, 0.925], [0.38, 0.925], [0.43, 0.925],
  [-0.58, 0.96], [-0.46, 0.96], [0.32, 0.96], [0.45, 0.96],
  [-0.53, 0.995], [0.4, 0.995], [0.5, 0.995],
  [-0.58, 1.03], [-0.48, 1.03], [0.34, 1.03], [0.46, 1.03],
  [-0.55, 1.065], [0.42, 1.065], [0.5, 1.065],
  [-0.6, 1.1], [-0.5, 1.1], [0.37, 1.1], [0.47, 1.1],
  [-0.56, 1.135], [0.44, 1.135],
  [-0.6, 1.17], [-0.52, 1.17], [0.41, 1.17], [0.48, 1.17],
  [-0.57, 1.205], [0.46, 1.205],
  [-0.62, 1.24], [-0.54, 1.24], [0.43, 1.24], [0.5, 1.24],
  [-0.58, 1.275], [0.47, 1.275],
  [-0.62, 1.31], [-0.55, 1.31], [0.45, 1.31], [0.5, 1.31],
  [-0.58, 1.345], [0.5, 1.345],
  [-0.6, 1.38], [0.5, 1.38], [-0.56, 1.415], [0.5, 1.415], [-0.6, 1.45], [0.52, 1.45],
  [-1.67, 1.21], [-1.3, 1.12], [-1.09, 0.93], [-0.93, 1.1], [-0.78, 1.06], [-0.74, 1.01], [-0.93, 0.76], [-0.9, 0.66],
  [-0.86, 0.55], [-0.78, 0.58], [-0.74, 0.83], [-0.32, 0.046], [0.23, 0.03], [0.92, 1.12], [0.95, 0.925], [1.01, 0.73],
  [0.91, 0.71], [0.91, 0.58], [0.94, 0.4], [0.89, 0.46], [0.87, 1.0], [0.73, 0.83], [0.69, 0.91], [0.73, 0.65],
  [0.69, 0.52], [0.5, 0.32], [0.41, 0.16], [0.8, 1.28], [0.92, 1.26], [-0.7, 1.2], [-0.68, 0.9], [-0.7, 0.7],
  [0.62, 1.1], [0.64, 0.75],
]

const secretomicsDown: Pt[] = [
  [-1.98, 2.19], [-1.61, 2.41], [-1.45, 2.31], [-1.24, 2.19], [-1.21, 2.19], [-1.15, 2.07], [-1.01, 1.97], [-1.11, 1.935],
  [-0.92, 1.9], [-0.97, 1.795], [-1.01, 1.77], [-0.92, 1.756], [-0.99, 1.72], [-0.78, 1.69], [-0.83, 1.64], [-0.69, 1.626],
  [-0.87, 1.61], [-0.6, 1.61], [-0.64, 1.56], [-0.74, 1.535], [-0.6, 1.53], [-0.78, 1.46], [-0.69, 1.43], [-0.6, 1.41],
  [-0.83, 1.43], [-0.74, 1.36], [-0.64, 1.38], [-1.22, 1.33], [-0.72, 1.66], [-0.66, 1.5], [-0.7, 1.58],
]

const secretomicsUp: Pt[] = [
  [1.7, 2.73], [1.75, 2.72], [1.93, 2.73], [1.96, 2.73], [2.82, 2.73], [3.61, 2.73], [1.47, 2.375], [1.38, 2.33],
  [1.33, 2.3], [1.29, 2.26], [1.22, 2.245], [1.15, 2.21], [1.1, 2.19], [0.95, 2.065], [0.89, 1.96], [1.24, 1.99],
  [1.29, 1.89], [1.06, 1.92], [1.15, 1.94], [0.97, 1.89], [1.01, 1.82], [0.87, 1.79], [1.1, 1.805], [1.17, 1.72],
  [0.78, 1.89], [0.83, 1.805], [1.66, 1.7], [0.73, 1.72], [0.69, 1.66], [0.78, 1.66], [0.6, 1.66], [0.92, 1.535],
  [0.73, 1.56], [0.64, 1.51], [0.55, 1.51], [0.73, 1.43], [0.64, 1.4], [0.92, 1.365], [1.38, 1.365], [0.83, 1.447],
  [0.97, 1.38], [1.01, 1.8], [1.19, 1.9],
]

const greyData = [transcriptomicsGrey, proteomicsGrey, phosphoproteomicsGrey, secretomicsGrey]
const downData = [transcriptomicsDown, proteomicsDown, phosphoproteomicsDown, secretomicsDown]
const upData = [transcriptomicsUp, proteomicsUp, phosphoproteomicsUp, secretomicsUp]

// ---- layout (pixels) ----
const W = 1189
const H = 390
const TOP = 30
const BOTTOM = 337
const FONT = "DejaVu Sans, sans-serif"
const TICK_FS = 13.9
const TITLE_FS = 16.67

const layout = [
  { left: 61, right: 286, xDomain: [-5.19, 7.05], yDomain: [-0.198, 4.146], xFmt: ".1f", yFmt: ".1f", yLabelX: 15.5 },
  { left: 360.7, right: 583.3, xDomain: [-1.96, 2.76], yDomain: [-0.283, 5.93], xFmt: "d", yFmt: "d", yLabelX: 328 },
  { left: 658.7, right: 882.7, xDomain: [-2.72, 1.85], yDomain: [-0.097, 2.04], xFmt: "d", yFmt: ".2f", yLabelX: 604 },
  { left: 957.7, right: 1180.3, xDomain: [-2.23, 3.91], yDomain: [-0.137, 2.865], xFmt: "d", yFmt: ".1f", yLabelX: 911 },
]

const colors = { grey: "#cccccc", down: "#1f77b4", up: "#d62728" }

function VolcanoPanel({ i }: { i: number }) {
  const L = layout[i]
  const x = d3.scaleLinear().domain(L.xDomain).range([L.left, L.right])
  const y = d3.scaleLinear().domain(L.yDomain).range([BOTTOM, TOP])
  const fx = d3.format(L.xFmt)
  const fy = d3.format(L.yFmt)
  const groups: [Pt[], string][] = [
    [greyData[i], colors.grey],
    [downData[i], colors.down],
    [upData[i], colors.up],
  ]
  const midX = (L.left + L.right) / 2
  const midY = (TOP + BOTTOM) / 2

  return (
    <g>
      {groups.map(([pts, color], gi) => (
        <g key={gi}>
          {pts.map((d, k) => (
            <circle
              key={k}
              cx={x(d[0])}
              cy={y(d[1])}
              r={4}
              fill={color}
              fillOpacity={0.6}
              stroke={color}
              strokeOpacity={0.6}
              strokeWidth={1}
            />
          ))}
        </g>
      ))}

      {/* cutoff lines */}
      <g stroke="#000" strokeWidth={2.08} strokeDasharray="7.7,3.33" fill="none">
        <line x1={L.left} x2={L.right} y1={y(pCutoff)} y2={y(pCutoff)} />
        <line x1={x(-fcCutoff)} x2={x(-fcCutoff)} y1={TOP} y2={BOTTOM} />
        <line x1={x(fcCutoff)} x2={x(fcCutoff)} y1={TOP} y2={BOTTOM} />
      </g>

      <rect x={L.left} y={TOP} width={L.right - L.left} height={BOTTOM - TOP} fill="none" stroke="#000" strokeWidth={1.1} />

      {/* x ticks */}
      {xTickValues[i].map((t) => (
        <g key={"x" + t} transform={`translate(${x(t)},${BOTTOM})`}>
          <line y2={4.86} stroke="#000" strokeWidth={1.1} />
          <text y={19.5} textAnchor="middle" fontSize={TICK_FS} fontFamily={FONT} fill="#000">
            {fx(t)}
          </text>
        </g>
      ))}

      {/* y ticks */}
      {yTickValues[i].map((t) => (
        <g key={"y" + t} transform={`translate(${L.left},${y(t)})`}>
          <line x2={-4.86} stroke="#000" strokeWidth={1.1} />
          <text x={-9.7} dy="0.36em" textAnchor="end" fontSize={TICK_FS} fontFamily={FONT} fill="#000">
            {fy(t)}
          </text>
        </g>
      ))}

      <text x={midX} y={377} textAnchor="middle" fontSize={TICK_FS} fontFamily={FONT} fill="#000">
        {xAxisLabel}
      </text>
      <text
        transform={`translate(${L.yLabelX},${midY}) rotate(-90)`}
        dy="0.3em"
        textAnchor="middle"
        fontSize={TICK_FS}
        fontFamily={FONT}
        fill="#000"
      >
        {yAxisLabel}
      </text>
      <text x={midX} y={21.7} textAnchor="middle" fontSize={TITLE_FS} fontFamily={FONT} fill="#000">
        {panelTitles[i]}
      </text>
    </g>
  )
}

export default function App() {
  return (
    <div style={{ position: "absolute", left: 0, top: 0, width: W, height: H, background: "#fff" }}>
      <svg width={W} height={H} viewBox={`0 0 ${W} ${H}`} style={{ display: "block" }}>
        <rect width={W} height={H} fill="#fff" />
        {panelTitles.map((_, i) => (
          <VolcanoPanel key={i} i={i} />
        ))}
      </svg>
    </div>
  )
}
